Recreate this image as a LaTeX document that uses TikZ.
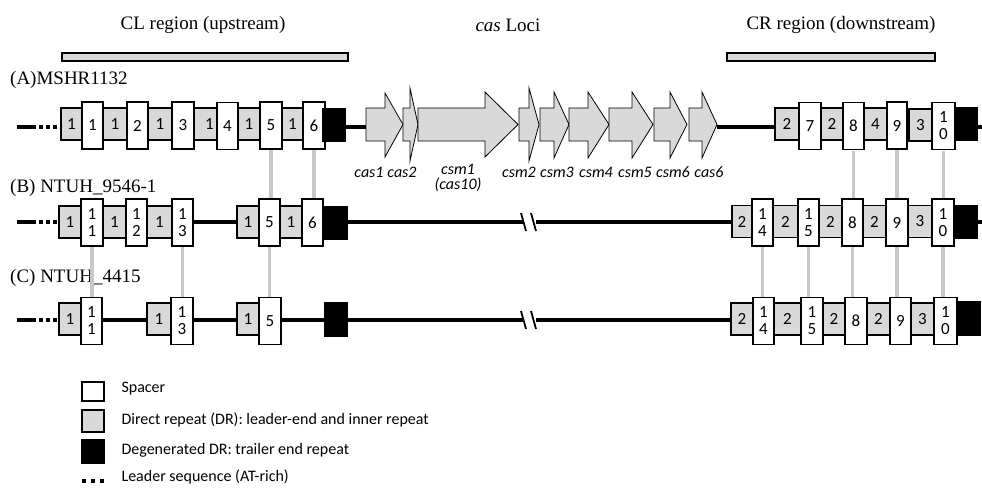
\documentclass[tikz,border=0pt]{standalone}
\usepackage{fontspec}
\setmainfont{Liberation Serif}
\newfontfamily\calfont{Carlito}
\definecolor{boxgray}{RGB}{217,217,217}
\definecolor{conngray}{RGB}{200,200,200}
\tikzset{
  bxbase/.style={draw=black, line width=1.1pt, inner sep=0pt, outer sep=0pt, align=center,
    font=\calfont\fontsize{17}{17}\selectfont},
  gbox/.style={bxbase, fill=boxgray, minimum height=32pt},
  wbox/.style={bxbase, fill=white, minimum height=47pt},
  bbox/.style={bxbase, fill=black, minimum height=33pt},
  dna/.style={line width=3.4pt, black},
  leaddash/.style={line width=4pt, black},
  leaddots/.style={line width=4pt, black, dash pattern=on 3.5pt off 3.5pt},
  legdots/.style={line width=4pt, black, dash pattern=on 4pt off 5pt},
  conn/.style={line width=3.2pt, conngray},
  genearrow/.style={draw=black, line width=0.8pt, fill=boxgray},
  title/.style={font=\fontsize{19}{22}\selectfont},
  genelab/.style={font=\calfont\itshape\fontsize{16}{15}\selectfont, align=center},
  legtext/.style={font=\calfont\fontsize{16}{18}\selectfont, anchor=west},
  bar/.style={draw=black, line width=1.1pt, fill=boxgray},
}
% box: style, name, x1, x2, yc, text
\newcommand\bx[6]{%
  \pgfmathsetmacro\bxw{#4-#3}\pgfmathsetmacro\bxc{(#3+#4)/2}%
  \node[#1, minimum width=\bxw pt] (#2) at (\bxc,#5) {#6};}
% gene arrow: name, x0, xb, xt, headtop, headbot
\newcommand\garrow[6]{%
  \draw[genearrow] (#2,108) -- (#3,108) -- (#3,#5) -- (#4,124.5) -- (#3,#6) -- (#3,141) -- (#2,141) -- cycle;
  \coordinate (#1s) at (#2,124.5); \coordinate (#1t) at (#4,124.5);}
\begin{document}
\begin{tikzpicture}[x=1pt,y=-1pt]
\useasboundingbox (0,0) rectangle (982,488);
% titles
\node[title] (tcl) at (203,25) {CL region (upstream)};
\node[title] (tcas) at (508,25) {\textit{cas} Loci};
\node[title] (tcr) at (841,25) {CR region (downstream)};
\draw[bar] (62,53) rectangle (348,61);
\draw[bar] (727,53) rectangle (935,61);
% row labels
\node[title, anchor=west, inner sep=0pt] (la) at (10,80) {(A)MSHR1132};
\node[title, anchor=west, inner sep=0pt] (lb) at (10,188) {(B) NTUH\_9546-1};
\node[title, anchor=west, inner sep=0pt] (lc) at (10,278) {(C) NTUH\_4415};

% ---------------- Row A ----------------
\coordinate (aL) at (17,127);
\draw[leaddash] (aL) -- ++(19,0);
\draw[leaddots] (39,127) -- (58,127);
% gray boxes
\bx{gbox}{ag1}{61}{82}{124}{1}
\bx{gbox}{ag2}{103}{127}{124}{1}
\bx{gbox}{ag3}{148}{172}{124}{1}
\bx{gbox}{ag4}{194}{217}{124}{\hspace*{8pt}1}
\bx{gbox}{ag5}{238}{260}{124}{1}
\bx{gbox}{ag6}{282}{303}{124}{1}
% white
\bx{wbox}{aw1}{82}{103}{125.5}{1}
\bx{wbox}{aw2}{127}{148}{125.5}{2}
\bx{wbox}{aw3}{172}{194}{125.5}{3}
\bx{wbox}{aw4}{217}{238}{126}{4}
\bx{wbox}{aw5}{260}{282}{125.5}{5}
\bx{wbox}{aw6}{303}{325}{125.5}{6}
\bx{bbox}{ablk}{323}{345}{125}{}
% cas genes
\garrow{cas1}{366}{385}{403}{93}{157}
\garrow{cas2}{403}{410}{418}{88}{161}
\garrow{csm1}{418}{485}{518}{92}{157}
\garrow{csm2}{519}{529}{539}{88}{161}
\garrow{csm3}{540}{554}{569}{92}{158}
\garrow{csm4}{569}{588}{609}{92}{158}
\garrow{csm5}{609}{632}{653}{92}{158}
\garrow{csm6}{654}{670}{687}{92}{158}
\garrow{cas6}{689}{702}{717}{92}{158}
\draw[dna] (ablk.east|-aL) -- (cas1s|-aL);
% right part A
\bx{gbox}{arg1}{775}{799}{124}{2}
\bx{gbox}{arg2}{821}{843}{124}{2}
\bx{gbox}{arg3}{864}{887}{124}{4}
\bx{gbox}{arg4}{909}{932}{125}{3}
\bx{wbox}{aw7}{799}{821}{126}{7}
\bx{wbox}{aw8}{843}{864}{126}{8}
\bx{wbox}{aw9}{887}{907}{125.5}{9}
\bx{wbox}{aw10}{932}{955}{126}{1\\0}
\bx{bbox}{arblk}{955}{977}{124}{}
\coordinate (aEnd) at (982,127);
\draw[dna] (cas6t|-aL) -- (arg1.west|-aL);
\draw[dna] (arblk.east|-aL) -- (aEnd);
% gene labels
\node[genelab] (lcas1) at (369,172) {cas1};
\node[genelab] (lcas2) at (402,172) {cas2};
\node[genelab] (lcsm1) at (458,178) {csm1\\(cas10)};
\node[genelab] (lcsm2) at (519,172) {csm2};
\node[genelab] (lcsm3) at (557,172) {csm3};
\node[genelab] (lcsm4) at (596,172) {csm4};
\node[genelab] (lcsm5) at (635,172) {csm5};
\node[genelab] (lcsm6) at (673,172) {csm6};
\node[genelab] (lcas6) at (709,172) {cas6};

% ---------------- Row B ----------------
\coordinate (bL) at (17,222);
\coordinate (bbrk1) at (523,222);
\coordinate (bbrk2) at (536,222);
\coordinate (bEnd) at (982,222);
\draw[leaddash] (bL) -- ++(19,0);
\draw[leaddots] (39,222) -- (58,222);
\draw[dna] (59,222) -- (bbrk1);
\draw[dna] (bbrk2) -- (732,222);
\draw[line width=1.8pt] (521,213) -- (526,231);
\draw[line width=1.8pt] (531,213) -- (536,231);
\bx{gbox}{bg1}{59}{81}{222}{1}
\bx{gbox}{bg2}{103}{126}{222}{1}
\bx{gbox}{bg3}{147}{172}{222}{1}
\bx{gbox}{bg4}{237}{259}{222}{1}
\bx{gbox}{bg5}{280}{302}{222}{1}
\bx{wbox}{bw11}{81}{103}{222.5}{1\\1}
\bx{wbox}{bw12}{126}{147}{222.5}{1\\2}
\bx{wbox}{bw13}{172}{193}{222.5}{1\\3}
\bx{wbox}{bw5}{259}{280}{222.5}{5}
\bx{wbox}{bw6}{302}{323}{222.5}{6}
\bx{bbox}{bblk}{323}{347}{223}{}
\bx{gbox}{brg1}{732}{752}{221.5}{2}
\bx{gbox}{brg2}{773}{798}{221.5}{2}
\bx{gbox}{brg3}{819}{842}{221.5}{2}
\bx{gbox}{brg4}{863}{886}{221.5}{2}
\bx{gbox}{brg5}{908}{932}{221.5}{3}
\bx{wbox}{bw14}{752}{773}{222.5}{1\\4}
\bx{wbox}{bw15}{798}{819}{222.5}{1\\5}
\bx{wbox}{bw8}{842}{863}{222.5}{8}
\bx{wbox}{bw9}{886}{908}{222.5}{9}
\bx{wbox}{bw10}{932}{954}{222.5}{1\\0}
\bx{bbox}{brblk}{954}{977}{222}{}
\draw[dna] (brblk.east|-bL) -- (bEnd);

% ---------------- Row C ----------------
\coordinate (cL) at (17,320);
\coordinate (cbrk1) at (523,320);
\coordinate (cbrk2) at (536,320);
\coordinate (cEnd) at (982,320);
\draw[leaddash] (cL) -- ++(19,0);
\draw[leaddots] (39,320) -- (58,320);
\draw[dna] (59,320) -- (cbrk1);
\draw[dna] (cbrk2) -- (731,320);
\draw[line width=1.8pt] (521,311) -- (526,329);
\draw[line width=1.8pt] (531,311) -- (536,329);
\bx{gbox}{cg1}{59}{81}{319}{1}
\bx{gbox}{cg2}{147}{171}{319}{1}
\bx{gbox}{cg3}{237}{259}{319}{1}
\bx{wbox}{cw11}{81}{102}{321}{1\\1}
\bx{wbox}{cw13}{171}{193}{321}{1\\3}
\bx{wbox}{cw5}{259}{281}{321}{5}
\bx{bbox}{cblk}{325}{347}{319.5}{}
\bx{gbox}{crg1}{731}{753}{319}{2}
\bx{gbox}{crg2}{774}{801}{319}{2}
\bx{gbox}{crg3}{823}{845}{319}{2}
\bx{gbox}{crg4}{867}{890}{319}{2}
\bx{gbox}{crg5}{911}{934}{319}{3}
\bx{wbox}{cw14}{753}{774}{321}{1\\4}
\bx{wbox}{cw15}{801}{823}{321}{1\\5}
\bx{wbox}{cw8}{845}{867}{321}{8}
\bx{wbox}{cw9}{890}{911}{321}{9}
\bx{wbox}{cw10}{934}{957}{321}{1\\0}
\bx{bbox}{crblk}{957}{980}{318.5}{}

% ---------------- connectors ----------------
\foreach \u/\l in {aw5/bw5, aw6/bw6, aw8/bw8, aw9/bw9, aw10/bw10,
                   bw11/cw11, bw13/cw13, bw5/cw5, bw14/cw14, bw15/cw15, bw8/cw8, bw9/cw9, bw10/cw10}
  \draw[conn] ([yshift=-1pt]\u.south) -- ([yshift=1pt]\u.south|-\l.north);

% ---------------- legend ----------------
\node[bxbase, fill=white, minimum width=22pt, minimum height=19pt] (kw) at (93,391.5) {};
\node[bxbase, fill=boxgray, minimum width=22pt, minimum height=22pt] (kg) at (93,421) {};
\node[bxbase, fill=black, minimum width=22pt, minimum height=23pt] (kb) at (93,451.5) {};
\coordinate (kd1) at (82,481);
\coordinate (kd2) at (104,481);
\draw[legdots] (kd1) -- (kd2);
\node[legtext] (tw) at (118,389) {Spacer};
\node[legtext] (tg) at (118,420) {Direct repeat (DR): leader-end and inner repeat};
\node[legtext] (tb) at (118,450) {Degenerated DR: trailer end repeat};
\node[legtext] (td) at (118,477) {Leader sequence (AT-rich)};
\end{tikzpicture}
\end{document}
